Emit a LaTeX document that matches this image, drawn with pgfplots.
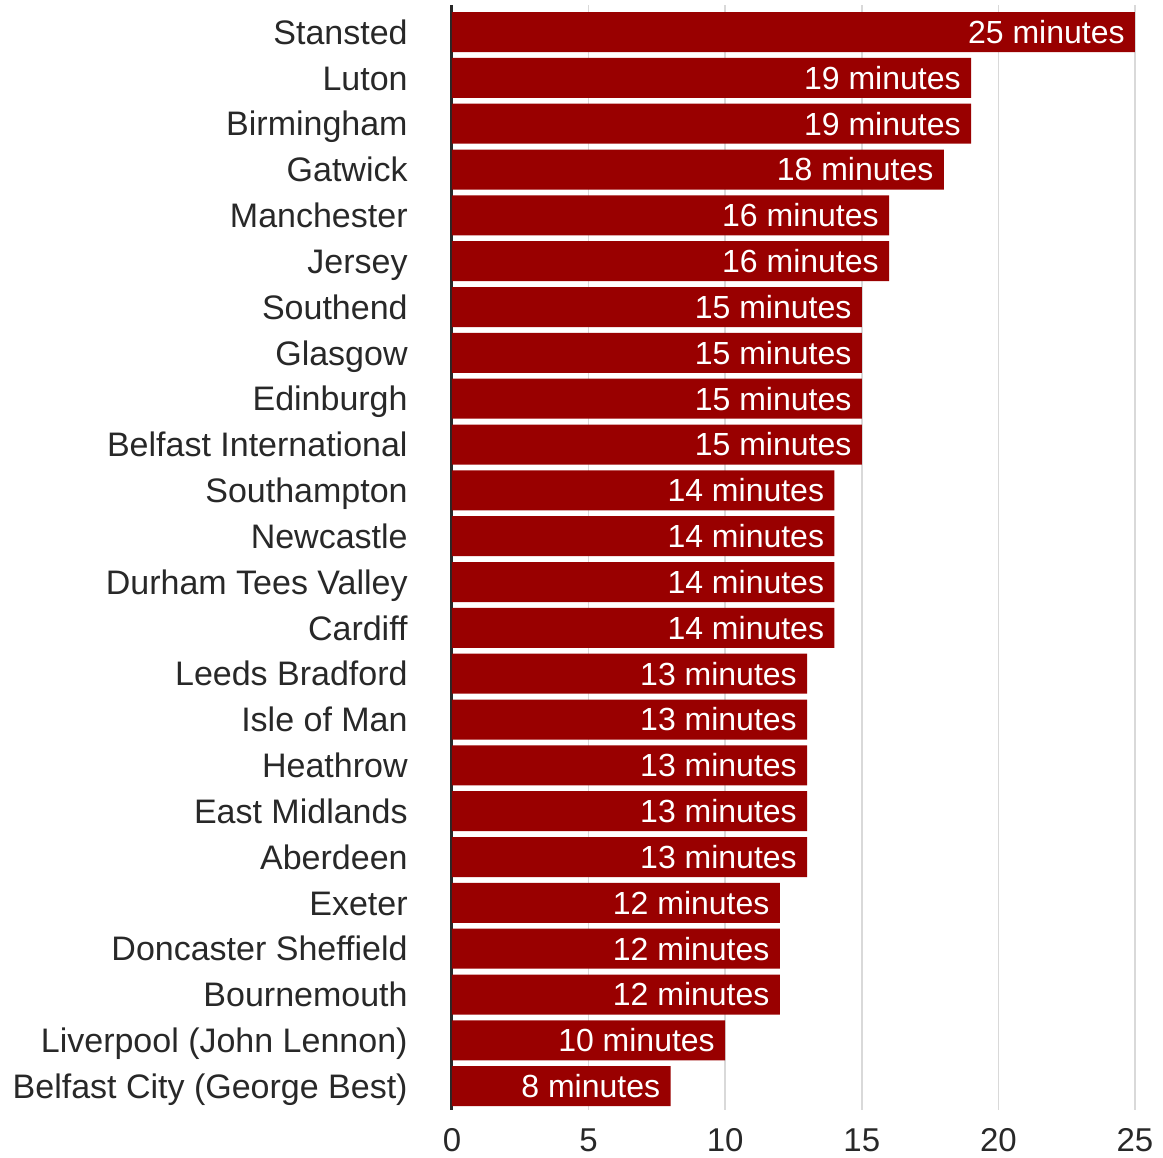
\documentclass[border=0pt]{standalone}
\usepackage{pgfplots}
\pgfplotsset{compat=1.18}
\usepackage{fontspec}
\setmainfont{Liberation Sans}
\definecolor{barred}{RGB}{153,0,0}
\definecolor{txt}{RGB}{40,40,40}
\definecolor{gridc}{RGB}{217,217,217}
\pgfplotstableread{
idx val
0 25
1 19
2 19
3 18
4 16
5 16
6 15
7 15
8 15
9 15
10 14
11 14
12 14
13 14
14 13
15 13
16 13
17 13
18 13
19 12
20 12
21 12
22 10
23 8
}\airports
\begin{document}
\begin{tikzpicture}
\begin{axis}[
  scale only axis,
  width=341.5bp, height=552.5bp,
  xmin=0, xmax=25, ymin=-0.59, ymax=23.52,
  y dir=reverse,
  xbar, bar width=0.873, bar shift=0pt,
  axis y line*=left, axis x line*=bottom,
  x axis line style={draw=none},
  y axis line style={draw=txt, line width=1.5bp, -},
  major tick length=0pt,
  xtick={0,5,10,15,20,25},
  ytick={0,...,23},
  yticklabels={Stansted, Luton, Birmingham, Gatwick, Manchester, Jersey, Southend, Glasgow, Edinburgh, Belfast International, Southampton, Newcastle, Durham Tees Valley, Cardiff, Leeds Bradford, Isle of Man, Heathrow, East Midlands, Aberdeen, Exeter, Doncaster Sheffield, Bournemouth, Liverpool (John Lennon), Belfast City (George Best)},
  yticklabel style={anchor=base east, inner sep=0pt, xshift=-22bp, yshift=-6.1bp, font=\fontsize{17bp}{20bp}\selectfont, text=txt},
  xticklabel style={anchor=north, inner sep=0pt, yshift=-9bp, font=\fontsize{16.5bp}{20bp}\selectfont, text=txt},
  /pgf/number format/assume math mode=true,
  xmajorgrids, major grid style={draw=gridc, line width=0.75bp},
  point meta=x,
  nodes near coords={\pgfmathprintnumber{\pgfplotspointmeta} minutes},
  nodes near coords style={anchor=base east, inner sep=0pt, xshift=-5bp, yshift=-5.7bp, text=white, font=\fontsize{16bp}{19bp}\selectfont, /pgf/number format/assume math mode=true},
]
\addplot[fill=barred, draw=none] table[x=val, y=idx] {\airports};
\end{axis}
\path ([xshift=-226bp, yshift=-24bp]current axis.south west) rectangle ([xshift=14bp, yshift=2.5bp]current axis.north east);
\end{tikzpicture}
\end{document}
